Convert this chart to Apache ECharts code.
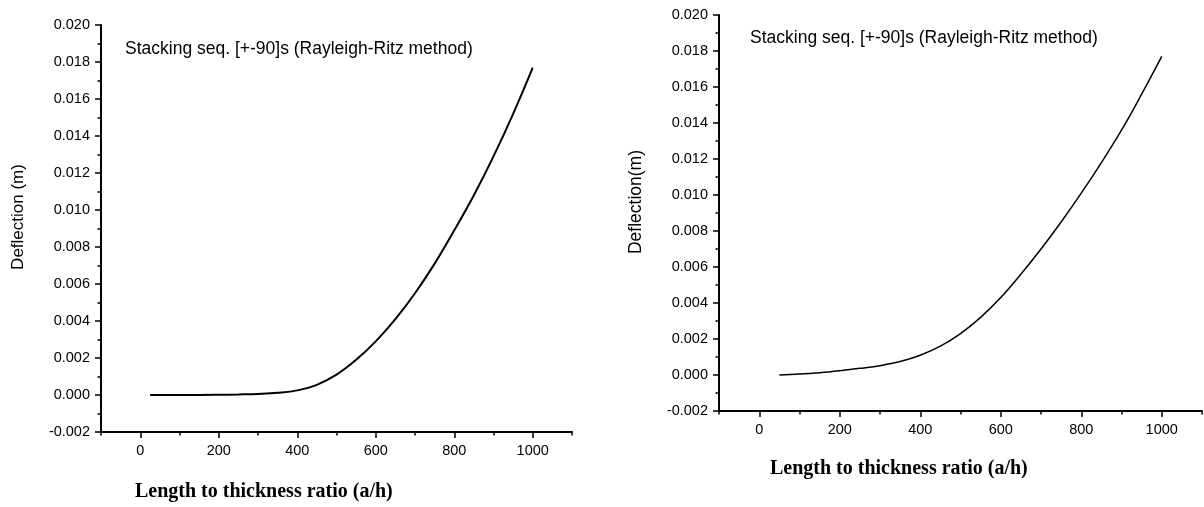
<!DOCTYPE html>
<html>
<head>
<meta charset="utf-8">
<script src="https://cdn.jsdelivr.net/npm/echarts@6/dist/echarts.min.js"></script>
<style>html,body{margin:0;padding:0;background:#fff;}#c{width:1204px;height:507px;}</style>
</head>
<body>
<div id="c"></div>
<script>
// ---- data ----
const leftX = [25, 50, 100, 150, 200, 250, 300, 350, 400, 450, 500, 550, 600, 650, 700, 750, 800, 850, 900, 950, 1000];
const leftDeflection = [0.00000, 0.00000, 0.00000, 0.00000, 0.00001, 0.00003, 0.00006, 0.00012, 0.00025, 0.00055, 0.0011, 0.0019, 0.0029, 0.0041, 0.0055, 0.0071, 0.0089, 0.0108, 0.0129, 0.0152, 0.0177];
const rightX = [50, 100, 150, 200, 250, 300, 350, 400, 450, 500, 550, 600, 650, 700, 750, 800, 850, 900, 950, 1000];
const rightDeflection = [0.00000, 0.00005, 0.00013, 0.00024, 0.00037, 0.00052, 0.00075, 0.0011, 0.0016, 0.0023, 0.0032, 0.0043, 0.0056, 0.0070, 0.0085, 0.0101, 0.0118, 0.0136, 0.0156, 0.0177];
const xMajorTicks = [0, 200, 400, 600, 800, 1000];
const xMinorTicks = [-100, 100, 300, 500, 700, 900, 1100];
const annotationText = 'Stacking seq. [+-90]s (Rayleigh-Ritz method)';
const xAxisName = 'Length to thickness ratio (a/h)';
const yAxisNameLeft = 'Deflection (m)';
const yAxisNameRight = 'Deflection(m)';

// ---- chart ----
const SANS = '"Liberation Sans", Arial, sans-serif';
const SERIF = '"Liberation Serif", "Times New Roman", serif';
const labelStyle = { color: '#000', fontSize: 14.5, fontFamily: SANS };
const lineStyle = { color: '#000', width: 2 };
const tickLine = { color: '#000', width: 1.5 };

function yAxisCfg(gridIndex) {
  return {
    gridIndex, type: 'value', min: -0.002, max: 0.020, interval: 0.002, position: 'left',
    axisLine: { show: true, onZero: false, lineStyle },
    axisTick: { show: true, inside: false, length: 6, lineStyle: tickLine },
    minorTick: { show: true, splitNumber: 2, length: 3.5, lineStyle: tickLine },
    splitLine: { show: false }, minorSplitLine: { show: false },
    axisLabel: Object.assign({ margin: 11, formatter: v => (Math.abs(v) < 1e-9 ? 0 : v).toFixed(3) }, labelStyle)
  };
}
function xMajorCfg(gridIndex) {
  return {
    gridIndex, type: 'value', min: -100, max: 1100, position: 'bottom',
    axisLine: { show: true, onZero: false, lineStyle },
    axisTick: { show: true, length: 6, customValues: xMajorTicks, lineStyle: tickLine },
    axisLabel: Object.assign({ margin: 11, customValues: xMajorTicks, formatter: v => String(v) }, labelStyle),
    splitLine: { show: false }
  };
}
function xMinorCfg(gridIndex) {
  return {
    gridIndex, type: 'value', min: -100, max: 1100, position: 'bottom',
    axisLine: { show: false, onZero: false },
    axisTick: { show: true, length: 3.5, customValues: xMinorTicks, lineStyle: tickLine },
    axisLabel: { show: false },
    splitLine: { show: false }
  };
}

const chart = echarts.init(document.getElementById('c'), null, { renderer: 'canvas' });
chart.setOption({
  animation: false,
  backgroundColor: '#fff',
  title: [
    { text: annotationText, left: 125, top: 40, padding: 0, textStyle: { fontFamily: SANS, fontSize: 17.5, fontWeight: 'normal', color: '#000' } },
    { text: annotationText, left: 750, top: 29, padding: 0, textStyle: { fontFamily: SANS, fontSize: 17.5, fontWeight: 'normal', color: '#000' } },
    { text: xAxisName, left: 135, top: 482, padding: 0, textStyle: { fontFamily: SERIF, fontSize: 20, fontWeight: 'bold', color: '#000' } },
    { text: xAxisName, left: 770, top: 459, padding: 0, textStyle: { fontFamily: SERIF, fontSize: 20, fontWeight: 'bold', color: '#000' } }
  ],
  graphic: [
    { type: 'text', x: 18, y: 217, rotation: Math.PI / 2, style: { text: yAxisNameLeft, fontFamily: SANS, fontSize: 17, fill: '#000', align: 'center', verticalAlign: 'middle' } },
    { type: 'text', x: 636, y: 202, rotation: Math.PI / 2, style: { text: yAxisNameRight, fontFamily: SANS, fontSize: 17.5, fill: '#000', align: 'center', verticalAlign: 'middle' } }
  ],
  grid: [
    { left: 101, top: 25, width: 471, height: 407 },
    { left: 719, top: 15, width: 483, height: 396 }
  ],
  xAxis: [xMajorCfg(0), xMinorCfg(0), xMajorCfg(1), xMinorCfg(1)],
  yAxis: [yAxisCfg(0), yAxisCfg(1)],
  series: [
    { type: 'line', xAxisIndex: 0, yAxisIndex: 0, data: leftX.map((x, i) => [x, leftDeflection[i]]), showSymbol: false, symbol: 'none', smooth: 0.4, lineStyle: { color: '#000', width: 2 } },
    { type: 'line', xAxisIndex: 2, yAxisIndex: 1, data: rightX.map((x, i) => [x, rightDeflection[i]]), showSymbol: false, symbol: 'none', smooth: 0.4, lineStyle: { color: '#000', width: 1.5 } }
  ]
});
</script>
</body>
</html>
